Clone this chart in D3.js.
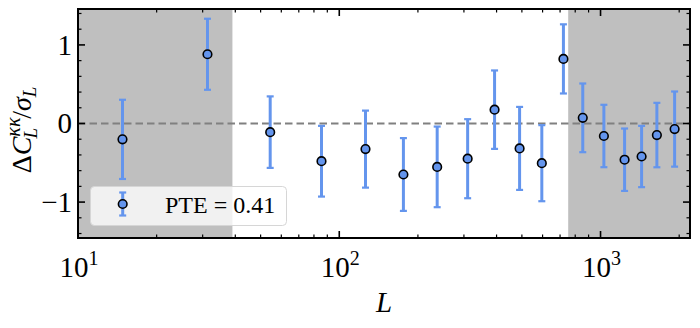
<!DOCTYPE html>
<html>
<head>
<meta charset="utf-8">
<script src="https://cdn.jsdelivr.net/npm/d3@7"></script>
<style>
  html, body { margin: 0; padding: 0; background: #fff; }
  svg { display: block; }
  text { font-family: "Liberation Serif", "DejaVu Serif", serif; fill: #000; }
</style>
</head>
<body>
<svg id="chart" width="700" height="328"></svg>
<script>
// ---- data ----
const multipoleL = [14.8, 31.3, 54.4, 85.5, 126, 176, 237, 310, 393, 490, 596, 721, 855, 1030, 1236, 1436, 1643, 1921];
const deltaOverSigma = [-0.202, 0.881, -0.110, -0.480, -0.326, -0.649, -0.552, -0.448, 0.176, -0.317, -0.505, 0.822, 0.072, -0.159, -0.461, -0.420, -0.147, -0.071];
const errorSize = [0.504, 0.452, 0.455, 0.450, 0.490, 0.463, 0.513, 0.503, 0.499, 0.528, 0.484, 0.440, 0.437, 0.397, 0.397, 0.390, 0.410, 0.478];
const shadedRanges = [[10, 39], [752, 2200]];
const xMajorTicks = [10, 100, 1000];
const xTickExponents = ["1", "2", "3"];
const yMajorTicks = [-1, 0, 1];
const legendLabel = "PTE = 0.41";

// ---- layout ----
const svg = d3.select("#chart");
const pLeft = 78, pRight = 690, pTop = 9, pBottom = 238;
const x = d3.scaleLog().domain([10, 2200]).range([pLeft, pRight]);
const y = d3.scaleLinear().domain([-1.457, 1.457]).range([pBottom, pTop]);

const blueFill = "#6495ED";
const blueErr = "#6495ED";

// shaded regions
svg.selectAll("rect.shade").data(shadedRanges).enter().append("rect")
  .attr("class", "shade")
  .attr("x", d => x(d[0]))
  .attr("y", pTop)
  .attr("width", d => x(Math.min(d[1], 2200)) - x(d[0]))
  .attr("height", pBottom - pTop)
  .attr("fill", "#bfbfbf");

// zero line
svg.append("line")
  .attr("x1", pLeft).attr("x2", pRight)
  .attr("y1", y(0)).attr("y2", y(0))
  .attr("stroke", "#808080").attr("stroke-width", 2)
  .attr("stroke-dasharray", "7.5,4");

// error bars
const pts = multipoleL.map((L, i) => ({L, v: deltaOverSigma[i], e: errorSize[i]}));
const g = svg.append("g");
g.selectAll("line.err").data(pts).enter().append("line")
  .attr("x1", d => x(d.L)).attr("x2", d => x(d.L))
  .attr("y1", d => y(d.v + d.e)).attr("y2", d => y(d.v - d.e))
  .attr("stroke", blueErr).attr("stroke-width", 3);
["top", "bot"].forEach(k => {
  g.selectAll("line.cap" + k).data(pts).enter().append("line")
    .attr("x1", d => x(d.L) - 3.5).attr("x2", d => x(d.L) + 3.5)
    .attr("y1", d => y(k === "top" ? d.v + d.e : d.v - d.e))
    .attr("y2", d => y(k === "top" ? d.v + d.e : d.v - d.e))
    .attr("stroke", blueErr).attr("stroke-width", 2.2);
});
g.selectAll("circle").data(pts).enter().append("circle")
  .attr("cx", d => x(d.L)).attr("cy", d => y(d.v))
  .attr("r", 4.3)
  .attr("fill", blueFill).attr("stroke", "#000").attr("stroke-width", 1.6);

// legend
const lg = svg.append("g");
lg.append("rect").attr("x", 90.5).attr("y", 186.5).attr("width", 196).attr("height", 39)
  .attr("rx", 4).attr("fill", "#fff").attr("fill-opacity", 0.78)
  .attr("stroke", "#d6d6d6").attr("stroke-width", 1);
const lx = 122.7, ly = 204;
lg.append("line").attr("x1", lx).attr("x2", lx).attr("y1", ly - 11.5).attr("y2", ly + 11.5)
  .attr("stroke", blueErr).attr("stroke-width", 3);
[ly - 11.5, ly + 11.5].forEach(yy => lg.append("line")
  .attr("x1", lx - 3.5).attr("x2", lx + 3.5).attr("y1", yy).attr("y2", yy)
  .attr("stroke", blueErr).attr("stroke-width", 2.2));
lg.append("circle").attr("cx", lx).attr("cy", ly).attr("r", 4.3)
  .attr("fill", blueFill).attr("stroke", "#000").attr("stroke-width", 1.6);
lg.append("text").attr("x", 165).attr("y", 213.3).attr("font-size", 24).text(legendLabel);

// ticks
const minorX = [];
[10, 100, 1000].forEach(dec => { for (let k = 2; k <= 9; k++) { const v = dec * k; if (v <= 2200) minorX.push(v); } });
const minorY = d3.range(-1.4, 1.41, 0.2).filter(v => Math.abs(Math.round(v) - v) > 1e-6);
const ticks = svg.append("g").attr("stroke", "#000");
function tick(x1, y1, x2, y2, w) {
  ticks.append("line").attr("x1", x1).attr("y1", y1).attr("x2", x2).attr("y2", y2).attr("stroke-width", w);
}
xMajorTicks.forEach(v => { const xx = x(v); tick(xx, pBottom, xx, pBottom - 7, 1.6); tick(xx, pTop, xx, pTop + 7, 1.6); });
minorX.forEach(v => { const xx = x(v); tick(xx, pBottom, xx, pBottom - 3.5, 1.2); tick(xx, pTop, xx, pTop + 3.5, 1.2); });
yMajorTicks.forEach(v => { const yy = y(v); tick(pLeft, yy, pLeft + 7, yy, 1.6); tick(pRight, yy, pRight - 7, yy, 1.6); });
minorY.forEach(v => { const yy = y(v); tick(pLeft, yy, pLeft + 3.5, yy, 1.2); tick(pRight, yy, pRight - 3.5, yy, 1.2); });

// frame
svg.append("rect").attr("x", pLeft).attr("y", pTop).attr("width", pRight - pLeft).attr("height", pBottom - pTop)
  .attr("fill", "none").attr("stroke", "#000").attr("stroke-width", 2);

// x tick labels
xMajorTicks.forEach((v, i) => {
  const t = svg.append("text").attr("x", x(v) + 1).attr("y", 277).attr("text-anchor", "middle").attr("font-size", 29);
  t.append("tspan").text("10");
  t.append("tspan").attr("font-size", 20).attr("dy", -12).text(xTickExponents[i]);
});

// y tick labels
yMajorTicks.forEach(v => {
  svg.append("text").attr("x", 72).attr("y", y(v)).attr("dy", "0.34em")
    .attr("text-anchor", "end").attr("font-size", 29)
    .text(v < 0 ? "\u2212" + Math.abs(v) : String(v));
});

// axis labels
svg.append("text").attr("x", 384).attr("y", 311.5).attr("text-anchor", "middle")
  .attr("font-size", 29).attr("font-style", "italic").text("L");

const yl = svg.append("text").attr("transform", "translate(31," + 130 + ") rotate(-90)")
  .attr("text-anchor", "middle").attr("font-size", 28);
yl.append("tspan").text("\u0394");
yl.append("tspan").attr("font-style", "italic").text("C");
yl.append("tspan").attr("font-style", "italic").attr("font-size", 20).attr("dy", -11).text("\u03BA\u03BA");
yl.append("tspan").attr("font-style", "italic").attr("font-size", 19).attr("dx", -21).attr("dy", 17).text("L");
yl.append("tspan").attr("dx", 9).attr("dy", -6).text("/");
yl.append("tspan").attr("font-style", "italic").text("\u03C3");
yl.append("tspan").attr("font-style", "italic").attr("font-size", 19).attr("dy", 5).text("L");
</script>
</body>
</html>
